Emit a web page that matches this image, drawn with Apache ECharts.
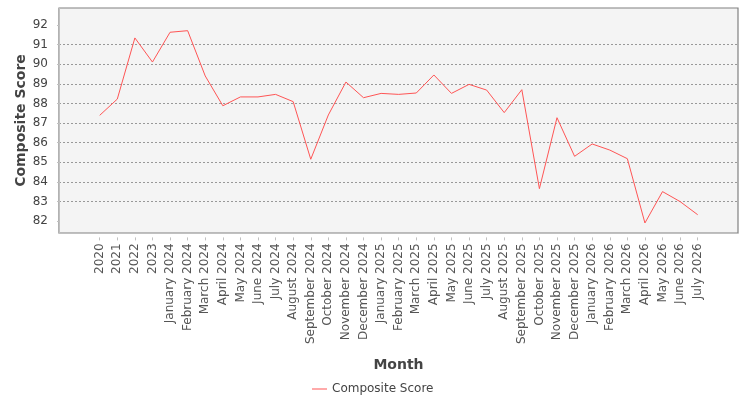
<!DOCTYPE html>
<html>
<head>
<meta charset="utf-8">
<script src="https://cdn.jsdelivr.net/npm/echarts@6/dist/echarts.min.js"></script>
<style>
html,body{margin:0;padding:0;background:#fff;}
#chart{width:750px;height:400px;}
</style>
</head>
<body>
<div id="chart"></div>
<script>
const categories = ['2020','2021','2022','2023',
  'January 2024','February 2024','March 2024','April 2024','May 2024','June 2024','July 2024','August 2024','September 2024','October 2024','November 2024','December 2024',
  'January 2025','February 2025','March 2025','April 2025','May 2025','June 2025','July 2025','August 2025','September 2025','October 2025','November 2025','December 2025',
  'January 2026','February 2026','March 2026','April 2026','May 2026','June 2026','July 2026'];
const scores = [87.39, 88.22, 91.34, 90.11,
  91.63, 91.71, 89.40, 87.88, 88.33, 88.33, 88.46, 88.09, 85.15, 87.41, 89.09, 88.29,
  88.51, 88.46, 88.53, 89.45, 88.51, 88.97, 88.68, 87.53, 88.70, 83.65, 87.27, 85.30,
  85.93, 85.62, 85.18, 81.90, 83.50, 82.99, 82.32];
const yTicks = [82, 83, 84, 85, 86, 87, 88, 89, 90, 91, 92];
const seriesName = 'Composite Score';
const xTitle = 'Month';
const yTitle = 'Composite Score';

const FONT = 'DejaVu Sans';
const chart = echarts.init(document.getElementById('chart'), null, {renderer: 'canvas'});
chart.setOption({
  backgroundColor: '#ffffff',
  animation: false,
  textStyle: {fontFamily: FONT},
  legend: {
    data: [{name: seriesName, icon: 'rect'}],
    left: 312, top: 383, padding: 0,
    itemWidth: 15, itemHeight: 1,
    textStyle: {fontSize: 12, color: '#444', fontFamily: FONT}
  },
  grid: [
    {left: 59, top: 8, width: 679, height: 225, show: true, backgroundColor: '#f4f4f4', borderColor: '#808080', borderWidth: 1.2},
    {left: 59, top: 5.4, width: 679, height: 235.2},
    {left: 99.7, top: 5.4, width: 598, height: 235.2}
  ],
  xAxis: [
    {gridIndex: 0, type: 'value', min: 0, max: 1, offset: 4.4,
     axisLine: {show: true, lineStyle: {color: '#c0c0c0', width: 1}},
     axisTick: {show: false}, axisLabel: {show: false}, splitLine: {show: false},
     name: xTitle, nameLocation: 'middle', nameGap: 121,
     nameTextStyle: {fontSize: 14, fontWeight: 'bold', color: '#444', fontFamily: FONT}},
    {gridIndex: 1, type: 'value', min: 0, max: 1, show: false},
    {gridIndex: 2, type: 'category', data: categories, boundaryGap: false, offset: -3.2,
     axisLine: {show: false},
     axisTick: {show: true, length: 3, alignWithLabel: true, interval: 0, lineStyle: {color: '#c0c0c0'}},
     axisLabel: {interval: 0, rotate: 90, margin: 6, fontSize: 12, color: '#555', fontFamily: FONT},
     splitLine: {show: false}}
  ],
  yAxis: [
    {gridIndex: 0, type: 'value', min: 0, max: 1, offset: 3,
     axisLine: {show: true, lineStyle: {color: '#c0c0c0', width: 1}},
     axisTick: {show: false}, axisLabel: {show: false}, splitLine: {show: false},
     name: yTitle, nameLocation: 'middle', nameGap: 28,
     nameTextStyle: {fontSize: 14, fontWeight: 'bold', color: '#444', fontFamily: FONT}},
    {gridIndex: 1, type: 'value', min: 81, max: 93, interval: 1, offset: 3,
     axisLine: {show: false},
     axisTick: {show: true, length: 2, customValues: yTicks, lineStyle: {color: '#c0c0c0'}},
     axisLabel: {customValues: yTicks, margin: 8, fontSize: 12, color: '#444', fontFamily: FONT},
     splitLine: {show: true, showMinLine: false, showMaxLine: false, lineStyle: {color: '#808080', width: 0.8, type: [2, 2]}}},
    {gridIndex: 2, type: 'value', min: 81, max: 93, show: false}
  ],
  series: [{
    name: seriesName, type: 'line', xAxisIndex: 2, yAxisIndex: 2,
    data: scores, symbol: 'none', showSymbol: false,
    lineStyle: {color: '#ff5555', width: 1}, itemStyle: {color: '#ff5555'}
  }]
});
</script>
</body>
</html>
